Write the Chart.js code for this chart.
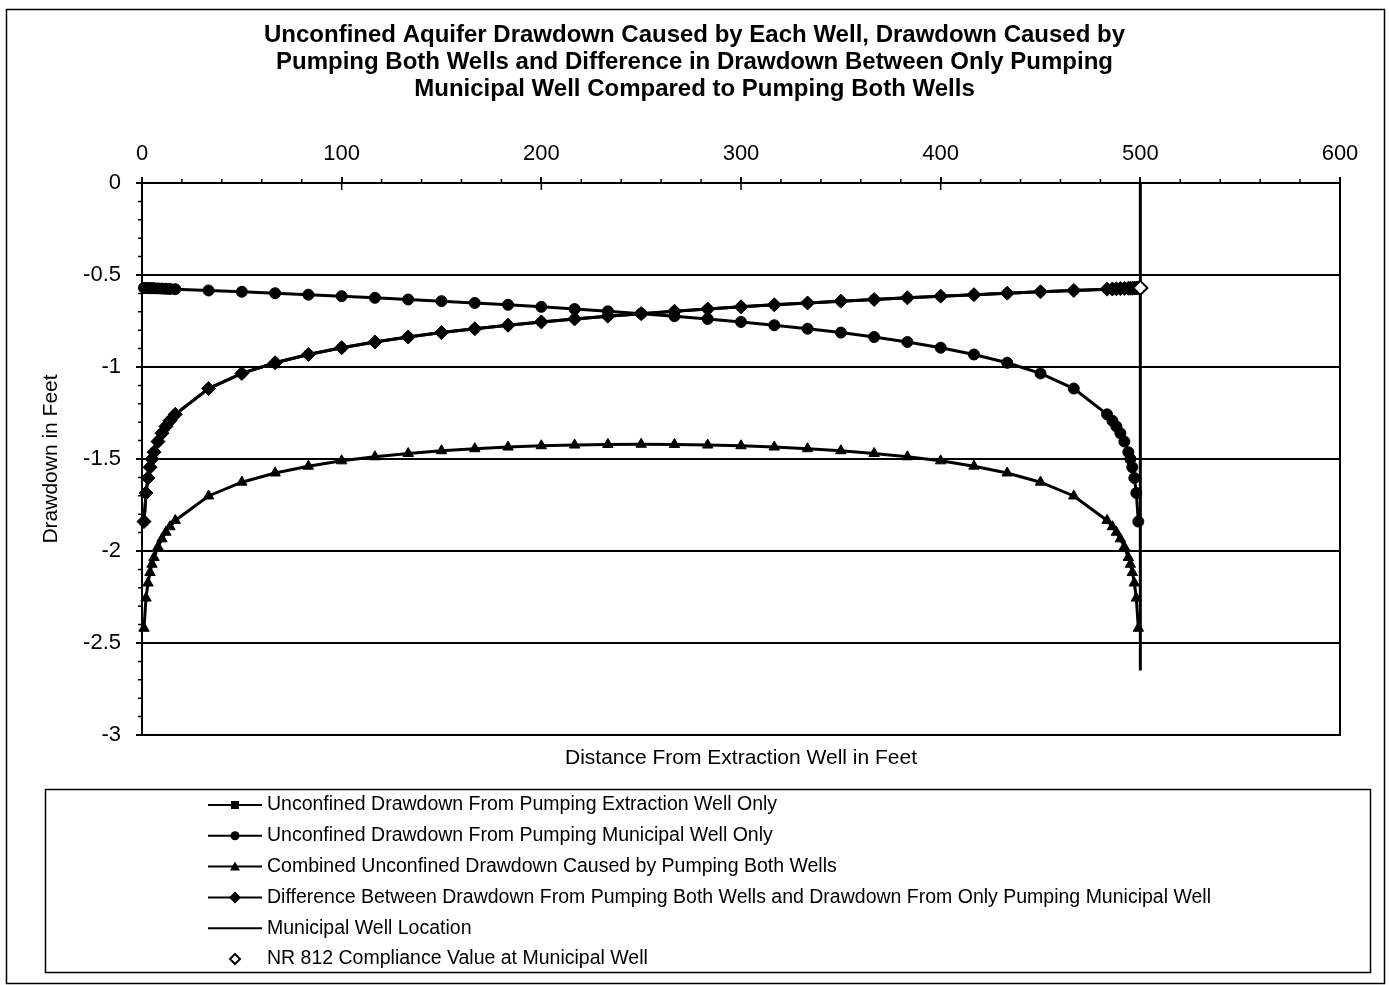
<!DOCTYPE html>
<html>
<head>
<meta charset="utf-8">
<script src="https://cdn.jsdelivr.net/npm/chart.js@4.4.1/dist/chart.umd.min.js"></script>
<style>
html, body { margin: 0; padding: 0; background: #fff; }
</style>
</head>
<body>
<canvas id="chart-drawdown" width="1389" height="985"></canvas>
<script>
// distance from extraction well (feet)
const distance = [1, 2, 3, 4, 5, 6, 8, 10, 12, 14,
    16.67, 33.33, 50, 66.67, 83.33, 100, 116.67, 133.33, 150, 166.67,
    183.33, 200, 216.67, 233.33, 250, 266.67, 283.33, 300, 316.67, 333.33,
    350, 366.67, 383.33, 400, 416.67, 433.33, 450, 466.67, 483.33,
    486, 488, 490, 492, 494, 495, 496, 497, 498, 499];

const extractionOnly = [-1.84, -1.685, -1.603, -1.545, -1.5, -1.463, -1.405, -1.36, -1.323, -1.292,
    -1.257, -1.117, -1.035, -0.977, -0.932, -0.895, -0.864, -0.837, -0.813, -0.792,
    -0.773, -0.755, -0.739, -0.724, -0.71, -0.697, -0.685, -0.673, -0.662, -0.652,
    -0.642, -0.633, -0.624, -0.615, -0.607, -0.599, -0.591, -0.584, -0.577,
    -0.576, -0.575, -0.574, -0.573, -0.572, -0.572, -0.572, -0.571, -0.571, -0.57];

const municipalOnly = [-0.57, -0.571, -0.571, -0.572, -0.572, -0.572, -0.573, -0.574, -0.575, -0.576,
    -0.577, -0.584, -0.591, -0.599, -0.607, -0.615, -0.624, -0.633, -0.642, -0.652,
    -0.662, -0.673, -0.685, -0.697, -0.71, -0.724, -0.739, -0.755, -0.773, -0.792,
    -0.813, -0.837, -0.864, -0.895, -0.932, -0.977, -1.035, -1.117, -1.257,
    -1.292, -1.323, -1.36, -1.405, -1.463, -1.5, -1.545, -1.603, -1.685, -1.84];

const combined = [-2.42, -2.256, -2.174, -2.117, -2.072, -2.035, -1.978, -1.934, -1.898, -1.868,
    -1.834, -1.701, -1.626, -1.576, -1.539, -1.51, -1.488, -1.47, -1.455, -1.444,
    -1.435, -1.428, -1.424, -1.421, -1.42, -1.421, -1.424, -1.428, -1.435, -1.444,
    -1.455, -1.47, -1.488, -1.51, -1.539, -1.576, -1.626, -1.701, -1.834,
    -1.868, -1.898, -1.934, -1.978, -2.035, -2.072, -2.117, -2.174, -2.256, -2.42];

const difference = [-1.84, -1.685, -1.603, -1.545, -1.5, -1.463, -1.405, -1.36, -1.323, -1.292,
    -1.257, -1.117, -1.035, -0.977, -0.932, -0.895, -0.864, -0.837, -0.813, -0.792,
    -0.773, -0.755, -0.739, -0.724, -0.71, -0.697, -0.685, -0.673, -0.662, -0.652,
    -0.642, -0.633, -0.624, -0.615, -0.607, -0.599, -0.591, -0.584, -0.577,
    -0.576, -0.575, -0.574, -0.573, -0.572, -0.572, -0.572, -0.571, -0.571, -0.57];

const wellX = [500, 500];
const wellY = [0, -2.65];
const complianceX = [500];
const complianceY = [-0.57];

const seriesNames = [
    "Unconfined Drawdown From Pumping Extraction Well Only",
    "Unconfined Drawdown From Pumping Municipal Well Only",
    "Combined Unconfined Drawdown Caused by Pumping Both Wells",
    "Difference Between Drawdown From Pumping Both Wells and Drawdown From Only Pumping Municipal Well",
    "Municipal Well Location",
    "NR 812 Compliance Value at Municipal Well",
];

const titleLines = [
    "Unconfined Aquifer Drawdown Caused by Each Well, Drawdown Caused by",
    "Pumping Both Wells and Difference in Drawdown Between Only Pumping",
    "Municipal Well Compared to Pumping Both Wells",
];

const pts = (xs, ys) => xs.map((x, i) => ({ x: x, y: ys[i] }));

Chart.defaults.font.family = "'Liberation Sans', Arial, sans-serif";
Chart.defaults.color = "#000";

function series(label, data, style, radius, order) {
    return {
        label: label,
        data: data,
        showLine: true,
        borderColor: "#000",
        backgroundColor: "#000",
        borderWidth: 3,
        pointStyle: style,
        pointRadius: radius,
        pointBorderWidth: 1,
        clip: false,
        order: order,
    };
}

// legend, plot frame and small ticks drawn on top
const extras = {
    id: "extras",
    afterDraw(chart) {
        const ctx = chart.ctx;
        const area = chart.chartArea;
        const xs = chart.scales.x;
        const ys = chart.scales.y;
        ctx.save();
        ctx.strokeStyle = "#000";
        ctx.fillStyle = "#000";

        ctx.lineWidth = 2;
        ctx.strokeRect(area.left, area.top, area.right - area.left, area.bottom - area.top);

        ctx.lineWidth = 1.5;
        ctx.beginPath();
        for (let v = 0; v <= 600; v += 20) {
            const px = xs.getPixelForValue(v);
            if (v % 100 === 0) {
                ctx.moveTo(px, area.top);
                ctx.lineTo(px, area.top + 7);
            } else {
                ctx.moveTo(px, area.top);
                ctx.lineTo(px, area.top - 4);
            }
        }
        for (let k = 0; k <= 30; k++) {
            if (k % 5 === 0) continue;
            const py = ys.getPixelForValue(-k / 10);
            ctx.moveTo(area.left, py);
            ctx.lineTo(area.left - 4, py);
        }
        ctx.stroke();

        // outer frame and legend box
        ctx.lineWidth = 1.5;
        ctx.strokeRect(6.5, 9.5, 1378, 974);
        ctx.strokeRect(45.5, 789.5, 1325, 183);

        ctx.font = "19.5px 'Liberation Sans', Arial, sans-serif";
        ctx.textBaseline = "middle";
        const styles = ["rect", "circle", "triangle", "rectRot", "none", "open"];
        chart.data.datasets.forEach((ds, i) => {
            const y = 805 + i * 30.8;
            const mx = 235;
            ctx.lineWidth = 2;
            if (styles[i] !== "open") {
                ctx.beginPath();
                ctx.moveTo(208, y);
                ctx.lineTo(262, y);
                ctx.stroke();
            }
            ctx.beginPath();
            if (styles[i] === "rect") {
                ctx.rect(mx - 4, y - 4, 8, 8);
                ctx.fill();
            } else if (styles[i] === "circle") {
                ctx.arc(mx, y, 4.5, 0, Math.PI * 2);
                ctx.fill();
            } else if (styles[i] === "triangle") {
                ctx.moveTo(mx, y - 5);
                ctx.lineTo(mx + 5, y + 4);
                ctx.lineTo(mx - 5, y + 4);
                ctx.closePath();
                ctx.fill();
            } else if (styles[i] === "rectRot") {
                ctx.moveTo(mx, y - 6);
                ctx.lineTo(mx + 6, y);
                ctx.lineTo(mx, y + 6);
                ctx.lineTo(mx - 6, y);
                ctx.closePath();
                ctx.fill();
            } else if (styles[i] === "open") {
                ctx.fillStyle = "#fff";
                ctx.moveTo(mx, y - 5);
                ctx.lineTo(mx + 5, y);
                ctx.lineTo(mx, y + 5);
                ctx.lineTo(mx - 5, y);
                ctx.closePath();
                ctx.fill();
                ctx.stroke();
                ctx.fillStyle = "#000";
            }
            ctx.fillText(ds.label, 267, y);
        });
        ctx.restore();
    },
};

new Chart(document.getElementById("chart-drawdown"), {
    type: "scatter",
    data: {
        datasets: [
            series(seriesNames[0], pts(distance, extractionOnly), "rect", 5, 5),
            series(seriesNames[1], pts(distance, municipalOnly), "circle", 5.5, 4),
            series(seriesNames[2], pts(distance, combined), "triangle", 6, 3),
            series(seriesNames[3], pts(distance, difference), "rectRot", 7, 2),
            {
                label: seriesNames[4],
                data: pts(wellX, wellY),
                showLine: true,
                borderColor: "#000",
                borderWidth: 3,
                pointRadius: 0,
                clip: false,
                order: 1,
            },
            {
                label: seriesNames[5],
                data: pts(complianceX, complianceY),
                showLine: false,
                pointStyle: "rectRot",
                pointRadius: 7,
                pointBorderWidth: 2,
                borderColor: "#000",
                backgroundColor: "#fff",
                clip: false,
                order: 0,
            },
        ],
    },
    options: {
        responsive: false,
        animation: false,
        devicePixelRatio: 1,
        events: [],
        layout: { padding: { left: 0, right: 0, top: 0, bottom: 210 } },
        plugins: {
            legend: { display: false },
            tooltip: { enabled: false },
            title: {
                display: true,
                text: titleLines,
                color: "#000",
                font: { size: 24, weight: "bold", lineHeight: 27 / 24 },
                padding: { top: 22, bottom: 10 },
            },
        },
        scales: {
            x: {
                type: "linear",
                position: "top",
                min: 0,
                max: 600,
                ticks: { stepSize: 100, font: { size: 22 }, color: "#000", padding: 10 },
                grid: { drawOnChartArea: false, drawTicks: true, tickLength: 6, color: "#000", lineWidth: 2 },
                border: { color: "#000", width: 2 },
                afterFit: (s) => { s.height = 70; },
            },
            x2: {
                type: "linear",
                position: "bottom",
                min: 0,
                max: 600,
                ticks: { display: false },
                grid: { display: false },
                border: { display: false },
                title: {
                    display: true,
                    text: "Distance From Extraction Well in Feet",
                    color: "#000",
                    font: { size: 21 },
                    padding: { top: 0, bottom: 4 },
                },
                afterFit: (s) => { s.height = 40; },
            },
            y: {
                type: "linear",
                position: "left",
                min: -3,
                max: 0,
                ticks: {
                    stepSize: 0.5,
                    font: { size: 22 },
                    color: "#000",
                    padding: 15,
                    callback: (v) => String(Number(v.toFixed(1))),
                },
                grid: { color: "#000", lineWidth: 2, tickLength: 6 },
                border: { color: "#000", width: 2 },
                title: {
                    display: true,
                    text: "Drawdown in Feet",
                    color: "#000",
                    font: { size: 21 },
                    padding: { top: 39, bottom: 0 },
                },
                afterFit: (s) => { s.width = 142; },
            },
            y2: {
                type: "linear",
                position: "right",
                min: -3,
                max: 0,
                ticks: { display: false },
                grid: { display: false },
                border: { display: false },
                afterFit: (s) => { s.width = 49; },
            },
        },
    },
    plugins: [extras],
});
</script>
</body>
</html>
